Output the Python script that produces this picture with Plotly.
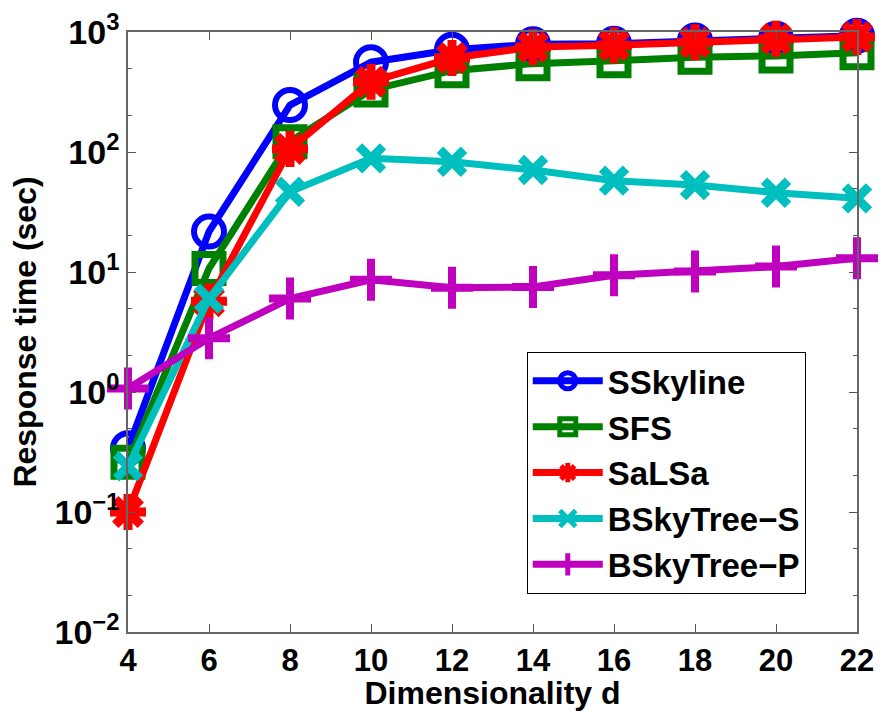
import plotly.graph_objects as go

dims = [4, 6, 8, 10, 12, 14, 16, 18, 20, 22]
sskyline = [0.34, 21.7, 246, 560, 710, 790, 800, 850, 880, 930]
sfs = [0.26, 10.7, 122, 329, 476, 545, 575, 615, 632, 670]
salsa = [0.10, 5.7, 106, 385, 607, 750, 775, 820, 880, 910]
bskytree_s = [0.24, 6.0, 46.6, 88.5, 83, 70.8, 57.7, 53, 45.8, 41.1]
bskytree_p = [1.07, 2.8, 6.0, 8.6, 7.4, 7.5, 9.4, 10.1, 11.1, 13.0]

y_tickvals = [0.01, 0.1, 1, 10, 100, 1000]
y_ticktext = ["10<sup>\u22122</sup>", "10<sup>\u22121</sup>", "10<sup>0</sup>",
              "10<sup>1</sup>", "10<sup>2</sup>", "10<sup>3</sup>"]

series = [
    ("SSkyline", sskyline, "#0000FF", "circle-open", 30, 6),
    ("SFS", sfs, "#008000", "square-open", 28, 7),
    ("SaLSa", salsa, "#FF0000", "asterisk-open", 30, 9),
    ("BSkyTree\u2212S", bskytree_s, "#00BFBF", "x-thin-open", 24, 9),
    ("BSkyTree\u2212P", bskytree_p, "#BF00BF", "cross-thin-open", 30, 8),
]

fig = go.Figure()
for name, vals, color, sym, size, mlw in series:
    fig.add_trace(go.Scatter(
        x=dims, y=vals, name=name, mode="lines+markers",
        line=dict(color=color, width=7),
        marker=dict(symbol=sym, size=size, color=color,
                    line=dict(color=color, width=mlw)),
        cliponaxis=False,
    ))

font_family = "Liberation Sans, Arial, sans-serif"
fig.update_layout(
    width=890, height=711,
    margin=dict(l=128, r=33, t=32, b=79),
    paper_bgcolor="white", plot_bgcolor="white",
    font=dict(family=font_family, color="black", size=32),
    showlegend=True,
    legend=dict(
        x=0.547, y=0.467, xanchor="left", yanchor="top",
        bgcolor="white", bordercolor="black", borderwidth=1,
        font=dict(family=font_family, size=33, color="black", weight="bold"),
        itemwidth=70, tracegroupgap=0,
    ),
    xaxis=dict(
        range=[4, 22], tickmode="array", tickvals=dims,
        ticktext=[str(d) for d in dims],
        ticks="inside", ticklen=8, tickcolor="#555", tickwidth=1,
        showline=True, linecolor="#666", linewidth=1.5, mirror="ticks",
        showgrid=False, zeroline=False, automargin=False,
        tickfont=dict(size=31, family=font_family, color="black", weight="bold"),
        title=dict(text="Dimensionality d", standoff=10,
                   font=dict(size=32, family=font_family, color="black", weight="bold")),
    ),
    yaxis=dict(
        type="log", range=[-2, 3], tickmode="array",
        tickvals=y_tickvals, ticktext=y_ticktext,
        ticks="inside", ticklen=8, tickcolor="#555", tickwidth=1,
        minor=dict(ticks="inside", ticklen=4, tickcolor="#555", showgrid=False),
        showline=True, linecolor="#666", linewidth=1.5, mirror="ticks",
        showgrid=False, zeroline=False, automargin=False,
        tickfont=dict(size=34, family=font_family, color="black", weight="bold"),
        title=dict(text="Response time (sec)", standoff=8,
                   font=dict(size=32, family=font_family, color="black", weight="bold")),
    ),
)

fig.write_html("out.html")
